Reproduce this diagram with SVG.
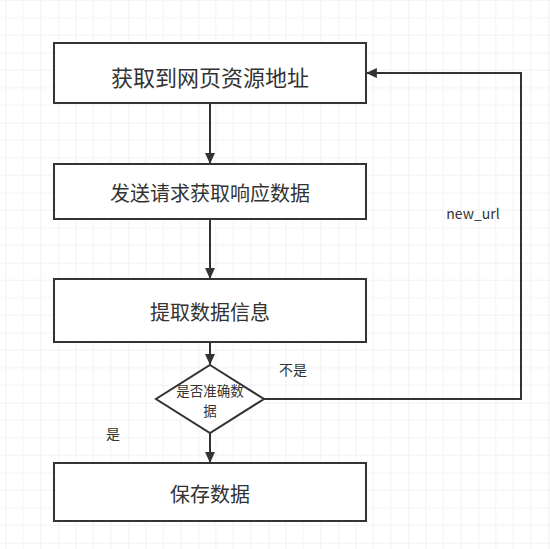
<svg xmlns="http://www.w3.org/2000/svg" width="550" height="549" viewBox="0 0 550 549">
<style>
.box{fill:#ffffff;stroke:#333333;stroke-width:2}
.t{font-family:"Noto Sans CJK SC","Microsoft YaHei",sans-serif;fill:#333333;text-anchor:middle;dominant-baseline:central}
.edge{fill:none;stroke:#333333;stroke-width:2}
</style>
<defs>
<pattern id="grid" patternUnits="userSpaceOnUse" x="58.3" y="52.7" width="70" height="70">
<path d="M17.5 0V70M35 0V70M52.5 0V70M0 17.5H70M0 35H70M0 52.5H70" fill="none" stroke="#f2f2f2" stroke-width="1"/>
<path d="M0 0V70M0 0H70" fill="none" stroke="#e6e6e6" stroke-width="1"/>
</pattern>
<marker id="arr" viewBox="0 0 10 10" refX="9" refY="5" markerWidth="11" markerHeight="11" markerUnits="userSpaceOnUse" orient="auto">
<path d="M0 0.5L10 5L0 9.5Z" fill="#333333"/>
</marker>
</defs>
<rect width="550" height="549" fill="#ffffff"/>
<rect width="550" height="549" fill="url(#grid)"/>
<g id="connectors">
<path class="edge" d="M210 103V163" marker-end="url(#arr)"/>
<path class="edge" d="M210 219V278" marker-end="url(#arr)"/>
<path class="edge" d="M210 342V364" marker-end="url(#arr)"/>
<path class="edge" d="M210 433V462" marker-end="url(#arr)"/>
<path class="edge" d="M264 399H521V73H367" marker-end="url(#arr)"/>
<text class="t" x="473" y="213" font-size="14">new_url</text>
<text class="t" x="293" y="369" font-size="14">不是</text>
<text class="t" x="113" y="433" font-size="14">是</text>
</g>
<g id="n1">
<rect class="box" x="54" y="43" width="312" height="60"/>
<text class="t" x="210" y="76" font-size="22">获取到网页资源地址</text>
</g>
<g id="n2">
<rect class="box" x="54" y="164" width="312" height="55"/>
<text class="t" x="210" y="192" font-size="20">发送请求获取响应数据</text>
</g>
<g id="n3">
<rect class="box" x="54" y="279" width="312" height="63"/>
<text class="t" x="210" y="311" font-size="20">提取数据信息</text>
</g>
<g id="n4">
<path class="box" d="M210 365L264 399L210 433L156 399Z"/>
<text class="t" x="210" y="390" font-size="13.5">是否准确数</text>
<text class="t" x="210" y="410" font-size="13.5">据</text>
</g>
<g id="n5">
<rect class="box" x="54" y="463" width="312" height="58"/>
<text class="t" x="210" y="493" font-size="20">保存数据</text>
</g>
</svg>
